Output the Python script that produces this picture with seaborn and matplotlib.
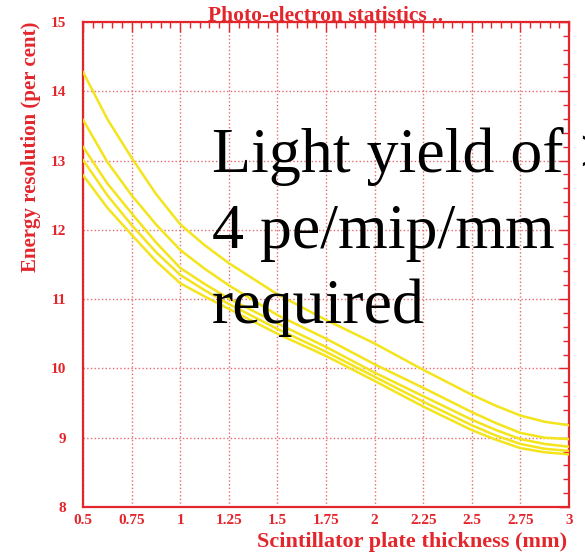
"""
Photo-electron statistics: energy resolution vs scintillator plate thickness
"""
import pandas as pd
import matplotlib
matplotlib.use("Agg")
import matplotlib.pyplot as plt
import seaborn as sns
from matplotlib.ticker import MultipleLocator, FormatStrFormatter

# 読み取った値 (厚さ mm / エネルギー分解能 %)
thickness = [0.5, 0.625, 0.75, 0.875, 1.0, 1.125, 1.25, 1.5, 1.75, 2.0, 2.25, 2.5, 2.625, 2.75, 2.875, 3.0]
curve_1 = [14.28, 13.60, 13.04, 12.52, 12.08, 11.78, 11.52, 11.07, 10.70, 10.36, 9.98, 9.62, 9.46, 9.32, 9.23, 9.18]
curve_2 = [13.59, 12.98, 12.50, 12.08, 11.71, 11.44, 11.20, 10.77, 10.43, 10.06, 9.72, 9.37, 9.21, 9.07, 9.00, 8.98]
curve_3 = [13.20, 12.67, 12.24, 11.82, 11.45, 11.22, 11.01, 10.65, 10.31, 9.94, 9.60, 9.26, 9.11, 8.98, 8.91, 8.87]
curve_4 = [13.01, 12.50, 12.07, 11.68, 11.35, 11.13, 10.93, 10.57, 10.24, 9.88, 9.52, 9.18, 9.03, 8.91, 8.84, 8.81]
curve_5 = [12.79, 12.32, 11.93, 11.55, 11.23, 11.04, 10.86, 10.50, 10.18, 9.82, 9.45, 9.11, 8.97, 8.85, 8.79, 8.76]
curve_names = ["c1", "c2", "c3", "c4", "c5"]

RED = "#e3262c"
YELLOW = "#f4e41c"

sns.set_style("white")
plt.rcParams['font.family'] = ['Liberation Serif', 'DejaVu Serif']
plt.rcParams['font.weight'] = 'bold'

rows = []
for name, vals in zip(curve_names, [curve_1, curve_2, curve_3, curve_4, curve_5]):
    for t, v in zip(thickness, vals):
        rows.append({'thickness': t, 'resolution': v, 'curve': name})
df = pd.DataFrame(rows)

fig = plt.figure(figsize=(5.85, 5.57), dpi=100)
ax = fig.add_axes([83 / 585, 50 / 557, 486 / 585, 485 / 557])

sns.lineplot(data=df, x='thickness', y='resolution', hue='curve',
             palette=[YELLOW] * 5, legend=False, linewidth=1.8, ax=ax, zorder=3)

ax.set_xlim(0.5, 3)
ax.set_ylim(8, 15)
ax.xaxis.set_major_locator(MultipleLocator(0.25))
ax.xaxis.set_minor_locator(MultipleLocator(0.05))
ax.yaxis.set_major_locator(MultipleLocator(1))
ax.yaxis.set_minor_locator(MultipleLocator(0.2))
ax.xaxis.set_major_formatter(FormatStrFormatter('%g'))

ax.grid(True, which='major', color='#e86a6e', linestyle=':', linewidth=1.0)
for s in ax.spines.values():
    s.set_color(RED)
    s.set_linewidth(1.6)
ax.tick_params(which='both', direction='in', top=True, right=True, color=RED,
               labelcolor=RED, labelsize=11)
ax.tick_params(which='major', length=7, width=1.0)
ax.tick_params(which='minor', length=4, width=1.0)
ax.tick_params(axis='y', pad=12)
ax.tick_params(axis='x', pad=5)
ax.set_xlabel('')
ax.set_ylabel('')

fig.text(326 / 585, 1 - 21 / 557, 'Photo-electron statistics ..', color=RED,
         fontsize=15.5, ha='center', va='baseline')
fig.text(567 / 585, 1 - 547 / 557, 'Scintillator plate thickness (mm)', color=RED,
         fontsize=16, ha='right', va='baseline')
fig.text(31 / 585, 1 - 22 / 557, 'Energy resolution (per cent)', color=RED,
         fontsize=15, rotation=90, ha='center', va='top')

# 注釈テキスト (右端ではみ出す)
for line, base in zip(['Light yield of >', '4 pe/mip/mm', 'required'], [172, 248, 323]):
    fig.text(212 / 585, 1 - base / 557, line, color='black', fontsize=46,
             fontweight='normal', ha='left', va='baseline')

fig.savefig('out.png', dpi=100)
plt.close(fig)
